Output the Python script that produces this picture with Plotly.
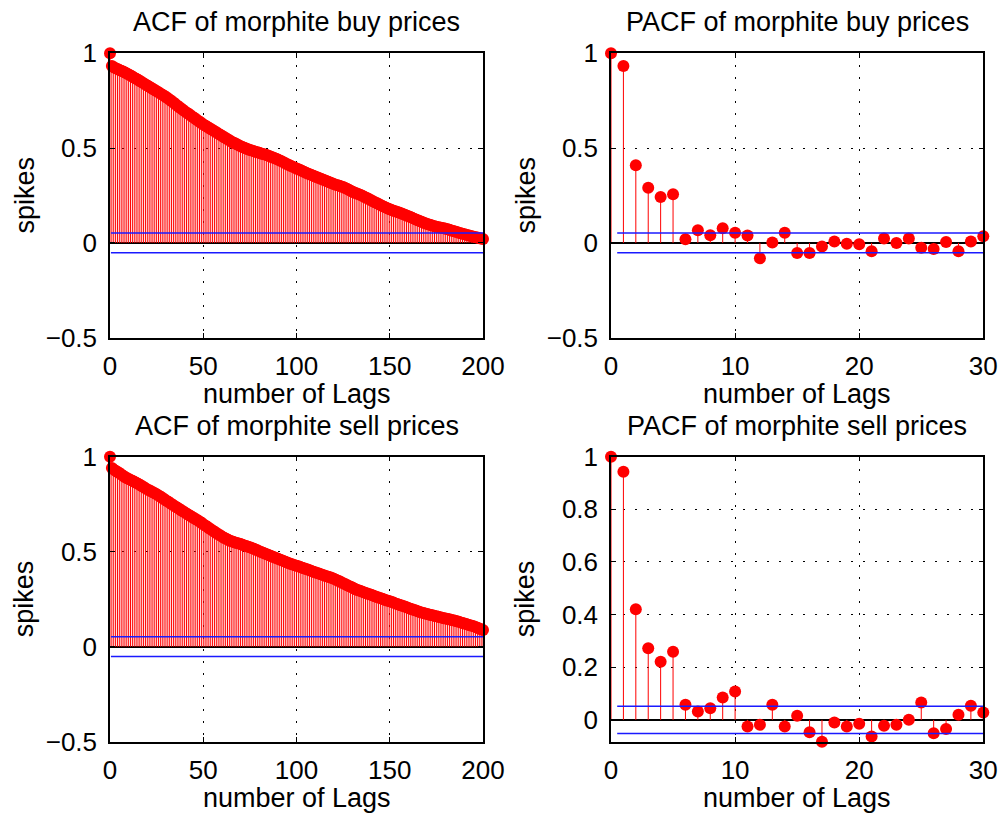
import plotly.graph_objects as go

W, H = 1005, 814

# ---------------- data ----------------
lags_acf = list(range(0, 201))
lags_pacf = list(range(0, 31))

acf_buy = [
    1.000, 0.933, 0.926, 0.921, 0.917, 0.912, 0.908, 0.904, 0.899, 0.893,
    0.888, 0.883, 0.877, 0.871, 0.866, 0.860, 0.854, 0.848, 0.842, 0.836,
    0.830, 0.824, 0.818, 0.812, 0.806, 0.800, 0.794, 0.788, 0.782, 0.776,
    0.770, 0.763, 0.755, 0.748, 0.740, 0.732, 0.725, 0.717, 0.710, 0.702,
    0.695, 0.688, 0.681, 0.674, 0.667, 0.660, 0.653, 0.646, 0.639, 0.632,
    0.625, 0.619, 0.613, 0.607, 0.601, 0.595, 0.589, 0.583, 0.577, 0.571,
    0.565, 0.559, 0.553, 0.547, 0.541, 0.535, 0.530, 0.525, 0.520, 0.515,
    0.510, 0.506, 0.502, 0.498, 0.494, 0.490, 0.487, 0.484, 0.481, 0.478,
    0.475, 0.472, 0.469, 0.466, 0.463, 0.460, 0.456, 0.452, 0.448, 0.444,
    0.440, 0.435, 0.430, 0.425, 0.420, 0.415, 0.411, 0.406, 0.402, 0.397,
    0.393, 0.388, 0.384, 0.379, 0.375, 0.370, 0.366, 0.362, 0.358, 0.354,
    0.350, 0.346, 0.342, 0.338, 0.334, 0.330, 0.326, 0.322, 0.318, 0.314,
    0.310, 0.307, 0.304, 0.301, 0.298, 0.295, 0.290, 0.285, 0.280, 0.275,
    0.270, 0.266, 0.262, 0.258, 0.254, 0.250, 0.245, 0.240, 0.235, 0.230,
    0.225, 0.220, 0.215, 0.210, 0.205, 0.200, 0.195, 0.191, 0.186, 0.182,
    0.177, 0.174, 0.170, 0.167, 0.163, 0.160, 0.156, 0.152, 0.148, 0.144,
    0.140, 0.136, 0.132, 0.128, 0.124, 0.120, 0.116, 0.112, 0.108, 0.104,
    0.100, 0.097, 0.094, 0.091, 0.088, 0.085, 0.083, 0.081, 0.079, 0.077,
    0.075, 0.072, 0.069, 0.066, 0.063, 0.060, 0.057, 0.054, 0.051, 0.048,
    0.045, 0.043, 0.040, 0.038, 0.035, 0.033, 0.030, 0.028, 0.025, 0.023,
    0.020,
]

acf_sell = [
    1.000, 0.940, 0.932, 0.926, 0.920, 0.914, 0.907, 0.900, 0.893, 0.888,
    0.883, 0.878, 0.873, 0.868, 0.863, 0.858, 0.852, 0.846, 0.840, 0.834,
    0.828, 0.823, 0.818, 0.813, 0.808, 0.802, 0.796, 0.790, 0.783, 0.777,
    0.770, 0.764, 0.757, 0.751, 0.745, 0.738, 0.732, 0.726, 0.719, 0.713,
    0.707, 0.701, 0.695, 0.689, 0.683, 0.677, 0.671, 0.665, 0.659, 0.652,
    0.645, 0.638, 0.632, 0.625, 0.618, 0.612, 0.605, 0.598, 0.592, 0.586,
    0.580, 0.574, 0.569, 0.564, 0.559, 0.555, 0.552, 0.549, 0.546, 0.543,
    0.540, 0.537, 0.533, 0.530, 0.526, 0.523, 0.519, 0.515, 0.511, 0.507,
    0.503, 0.499, 0.495, 0.491, 0.487, 0.483, 0.479, 0.475, 0.471, 0.467,
    0.463, 0.459, 0.455, 0.451, 0.447, 0.443, 0.439, 0.435, 0.432, 0.429,
    0.426, 0.423, 0.420, 0.416, 0.413, 0.409, 0.406, 0.402, 0.399, 0.395,
    0.392, 0.388, 0.385, 0.381, 0.378, 0.375, 0.371, 0.368, 0.365, 0.361,
    0.358, 0.353, 0.348, 0.344, 0.339, 0.334, 0.330, 0.325, 0.320, 0.316,
    0.311, 0.305, 0.301, 0.297, 0.294, 0.290, 0.287, 0.283, 0.280, 0.276,
    0.273, 0.269, 0.266, 0.262, 0.259, 0.255, 0.252, 0.249, 0.245, 0.242,
    0.239, 0.235, 0.232, 0.228, 0.225, 0.221, 0.218, 0.214, 0.211, 0.207,
    0.204, 0.200, 0.197, 0.193, 0.190, 0.187, 0.183, 0.180, 0.177, 0.175,
    0.172, 0.170, 0.167, 0.165, 0.162, 0.160, 0.158, 0.155, 0.153, 0.150,
    0.148, 0.146, 0.144, 0.141, 0.139, 0.137, 0.134, 0.131, 0.128, 0.125,
    0.122, 0.119, 0.116, 0.113, 0.110, 0.107, 0.104, 0.100, 0.096, 0.092,
    0.088,
]

pacf_buy = [
    1.000, 0.933, 0.410, 0.291, 0.242, 0.256, 0.019, 0.067, 0.040, 0.077,
    0.054, 0.039, -0.081, 0.002, 0.054, -0.053, -0.053, -0.019, 0.007, -0.004,
    -0.007, -0.044, 0.023, 0.000, 0.023, -0.026, -0.032, 0.005, -0.044, 0.007,
    0.035,
]

pacf_sell = [
    1.000, 0.943, 0.420, 0.272, 0.221, 0.259, 0.057, 0.032, 0.044, 0.085,
    0.108, -0.025, -0.019, 0.057, -0.025, 0.016, -0.047, -0.083, -0.010, -0.025,
    -0.015, -0.063, -0.022, -0.019, 0.000, 0.066, -0.051, -0.035, 0.019, 0.054,
    0.028,
]

conf_bound = 0.052

titles = [
    "ACF of morphite buy prices",
    "PACF of morphite buy prices",
    "ACF of morphite sell prices",
    "PACF of morphite sell prices",
]
x_label = "number of Lags"
y_label = "spikes"

acf_xticks = [0, 50, 100, 150, 200]
pacf_xticks = [0, 10, 20, 30]
y_ticks_std = [-0.5, 0, 0.5, 1]
y_ticks_std_text = ["\u22120.5", "0", "0.5", "1"]
y_ticks_ps = [0, 0.2, 0.4, 0.6, 0.8, 1]
y_ticks_ps_text = ["0", "0.2", "0.4", "0.6", "0.8", "1"]

# ---------------- layout geometry (pixels) ----------------
FONT = "Liberation Sans, Arial, Helvetica, sans-serif"
TICK_SIZE = 26
LABEL_SIZE = 27

panels = [
    # (lags, values, px_left, px_right, px_top, px_bottom, yrange, yticks, yticktext, xticks)
    (lags_acf, acf_buy, 110, 483, 53.3, 337.7, [-0.5, 1], y_ticks_std, y_ticks_std_text, acf_xticks),
    (lags_pacf, pacf_buy, 611, 983.3, 53.3, 337.7, [-0.5, 1], y_ticks_std, y_ticks_std_text, pacf_xticks),
    (lags_acf, acf_sell, 110, 483, 456.7, 741.7, [-0.5, 1], y_ticks_std, y_ticks_std_text, acf_xticks),
    (lags_pacf, pacf_sell, 611, 983.3, 456.7, 741.7, [min(pacf_sell), 1], y_ticks_ps, y_ticks_ps_text, pacf_xticks),
]

fig = go.Figure()
annotations = []

for i, (lags, vals, l, r, t, b, yr, ytv, ytt, xtv) in enumerate(panels):
    n = i + 1
    xa = "x" if n == 1 else f"x{n}"
    ya = "y" if n == 1 else f"y{n}"

    # stems
    sx, sy = [], []
    for lag, v in zip(lags, vals):
        sx += [lag, lag, None]
        sy += [0, v, None]
    fig.add_trace(go.Scatter(x=sx, y=sy, mode="lines", xaxis=xa, yaxis=ya,
                             line=dict(color="#ff0000", width=1),
                             hoverinfo="skip", showlegend=False))
    # markers
    fig.add_trace(go.Scatter(x=lags, y=vals, mode="markers", xaxis=xa, yaxis=ya,
                             marker=dict(color="#ff0000", size=12, line=dict(width=0)),
                             cliponaxis=False, showlegend=False))
    # confidence bounds
    for s in (1, -1):
        fig.add_trace(go.Scatter(x=[0.5, lags[-1]], y=[s * conf_bound, s * conf_bound],
                                 mode="lines", xaxis=xa, yaxis=ya,
                                 line=dict(color="#1a1aff", width=1.5),
                                 hoverinfo="skip", showlegend=False))

    xdom = [l / W, r / W]
    ydom = [1 - b / H, 1 - t / H]
    axis_common = dict(
        showline=True, linecolor="black", linewidth=1.5, mirror="ticks",
        ticks="inside", ticklen=5, tickwidth=1, tickcolor="black",
        showgrid=True, gridcolor="black", gridwidth=1, griddash="2px,10px",
        tickfont=dict(family=FONT, size=TICK_SIZE, color="black"),
        automargin=False,
    )
    fig.layout[f"xaxis{'' if n == 1 else n}"] = dict(
        domain=xdom, anchor=ya, range=[lags[0], lags[-1]],
        tickvals=xtv, ticktext=[str(v) for v in xtv], zeroline=False,
        ticklabelstandoff=4, **axis_common)
    fig.layout[f"yaxis{'' if n == 1 else n}"] = dict(
        domain=ydom, anchor=xa, range=yr, tickvals=ytv, ticktext=ytt,
        zeroline=True, zerolinecolor="black", zerolinewidth=1.5,
        ticklabelstandoff=6, **axis_common)

    cx = (l + r) / 2
    cy = (t + b) / 2
    annotations.append(dict(text=titles[i], x=cx / W, y=1 - (t - 31) / H,
                            xref="paper", yref="paper", showarrow=False,
                            xanchor="center", yanchor="middle",
                            font=dict(family=FONT, size=LABEL_SIZE, color="black")))
    annotations.append(dict(text=x_label, x=cx / W, y=1 - (b + 56) / H,
                            xref="paper", yref="paper", showarrow=False,
                            xanchor="center", yanchor="middle",
                            font=dict(family=FONT, size=LABEL_SIZE, color="black")))
    annotations.append(dict(text=y_label, x=(l - 86) / W, y=1 - cy / H,
                            xref="paper", yref="paper", showarrow=False,
                            xanchor="center", yanchor="middle", textangle=-90,
                            font=dict(family=FONT, size=LABEL_SIZE, color="black")))

fig.update_layout(
    width=W, height=H, margin=dict(l=0, r=0, t=0, b=0, autoexpand=False),
    paper_bgcolor="white", plot_bgcolor="white",
    annotations=annotations, showlegend=False,
    font=dict(family=FONT, color="black"),
)

fig.write_html("out.html")
